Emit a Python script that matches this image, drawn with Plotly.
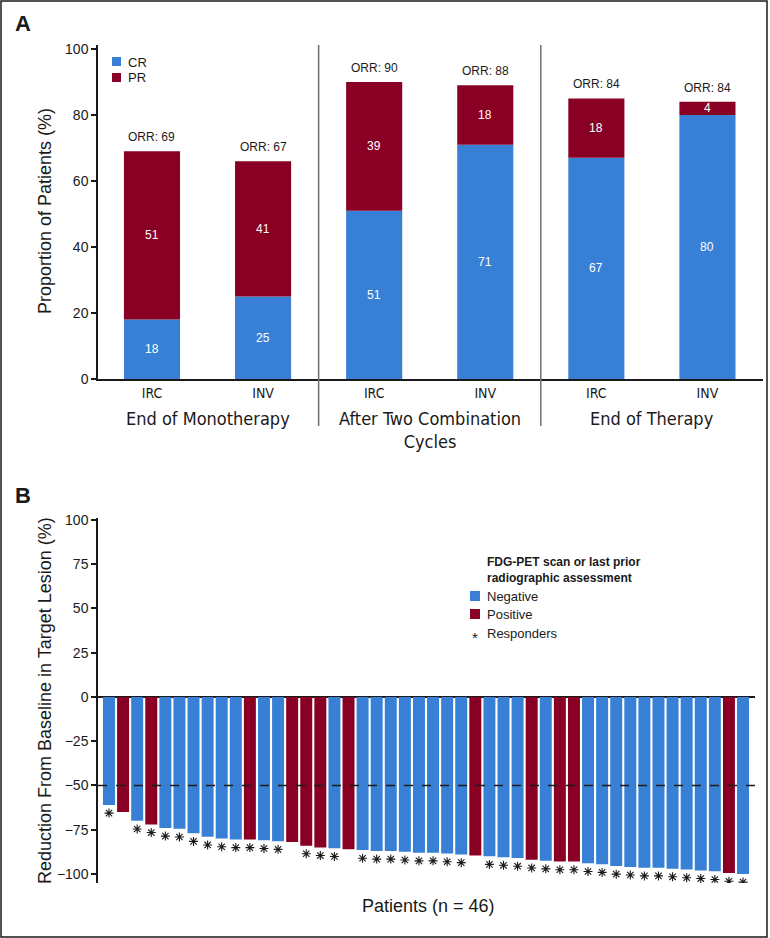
import plotly.graph_objects as go

W, H = 770, 938
def px(x): return x / W
def py(y): return 1 - y / H

# ---------------- Panel A data ----------------
a_tick_labels = ["IRC", "INV", "IRC", "INV", "IRC", "INV"]
a_groups = ["End of Monotherapy", "After Two Combination<br>Cycles", "End of Therapy"]
a_cr = [18, 25, 51, 71, 67, 80]
a_pr = [51, 41, 39, 18, 18, 4]
a_orr = [69, 67, 90, 88, 84, 84]

# ---------------- Panel B data ----------------
b_reduction = [-61, -65, -70, -72, -74, -74.5, -77, -79, -80, -80.5,
               -80.5, -81, -81.5, -82, -84, -85, -85.5, -86, -86.5, -87,
               -87, -87.5, -88, -88, -88.5, -89, -89.5, -90, -90.5, -91,
               -92, -92.5, -93, -93, -94, -94.5, -95.5, -96, -96.5, -96.5,
               -97, -97.5, -98, -98.5, -99.5, -100]
b_pet = ["N", "P", "N", "P", "N", "N", "N", "N", "N", "N",
         "P", "N", "N", "P", "P", "P", "N", "P", "N", "N",
         "N", "N", "N", "N", "N", "N", "P", "N", "N", "N",
         "P", "N", "P", "P", "N", "N", "N", "N", "N", "N",
         "N", "N", "N", "N", "P", "N"]
b_responder = [1, 0, 1, 1, 1, 1, 1, 1, 1, 1,
               1, 1, 1, 0, 1, 1, 1, 0, 1, 1,
               1, 1, 1, 1, 1, 1, 0, 1, 1, 1,
               1, 1, 1, 1, 1, 1, 1, 1, 1, 1,
               1, 1, 1, 1, 1, 1]

BLUE = "#3780d6"
RED = "#8a0024"
INK = "#1a1a1a"
SANS = "Liberation Sans, Arial, Helvetica, sans-serif"
NARROW = "Liberation Sans Narrow, Arial Narrow, DejaVu Sans Condensed, sans-serif"

fig = go.Figure()

xa = list(range(len(a_cr)))
fig.add_trace(go.Bar(x=xa, y=a_cr, marker=dict(color=BLUE, line=dict(width=0)),
                     width=0.505, xaxis="x", yaxis="y", showlegend=False, hoverinfo="skip"))
fig.add_trace(go.Bar(x=xa, y=a_pr, base=a_cr, marker=dict(color=RED, line=dict(width=0)),
                     width=0.505, xaxis="x", yaxis="y", showlegend=False, hoverinfo="skip"))

xb = list(range(len(b_reduction)))
fig.add_trace(go.Bar(x=xb, y=b_reduction,
                     marker=dict(color=[RED if s == "P" else BLUE for s in b_pet], line=dict(width=0)),
                     xaxis="x2", yaxis="y2", showlegend=False, hoverinfo="skip"))
rx = [i for i, r in zip(xb, b_responder) if r]
ry = [v - 4.6 for v, r in zip(b_reduction, b_responder) if r]
fig.add_trace(go.Scatter(x=rx, y=ry, mode="markers",
                         marker=dict(symbol="asterisk-open", size=7.5, color=INK,
                                     line=dict(width=1.1, color=INK)),
                         xaxis="x2", yaxis="y2", showlegend=False, hoverinfo="skip"))


def note(x, y, text, size, family=SANS, color=INK, xanchor="center", yanchor="middle", **kw):
    d = dict(x=x, y=y, text=text, showarrow=False, xanchor=xanchor, yanchor=yanchor,
             font=dict(family=family, size=size, color=color))
    d.setdefault("xref", "paper")
    d.setdefault("yref", "paper")
    d.update(kw)
    return d


annotations = []
for i in xa:
    annotations.append(note(i, a_cr[i] / 2, str(a_cr[i]), 12, color="white", xref="x", yref="y"))
    annotations.append(note(i, a_cr[i] + a_pr[i] / 2, str(a_pr[i]), 12, color="white", xref="x", yref="y"))
    annotations.append(note(i, a_cr[i] + a_pr[i], f"ORR: {a_orr[i]}", 12, yanchor="bottom",
                            xref="x", yref="y", yshift=5))
for g, lab in enumerate(a_groups):
    annotations.append(note(2 * g + 0.5, py(406), lab, 18, family=NARROW, yanchor="top",
                            xref="x", align="center"))
annotations.append(note(px(13), py(24), "<b>A</b>", 22, xanchor="left"))
annotations.append(note(px(13), py(495), "<b>B</b>", 22, xanchor="left"))
annotations.append(note(px(45), py(211), "Proportion of Patients (%)", 18, textangle=-90))
annotations.append(note(px(45), py(701), "Reduction From Baseline in Target Lesion (%)", 18, textangle=-90))
annotations.append(note(px(428), py(906), "Patients (n = 46)", 18))
annotations.append(note(px(126), py(62), "CR", 13, xanchor="left"))
annotations.append(note(px(126), py(78), "PR", 13, xanchor="left"))
annotations.append(note(px(485), py(569.5), "<b>FDG-PET scan or last prior<br>radiographic assessment</b>",
                        12, xanchor="left", align="left"))
for yy, t in [(596, "Negative"), (614, "Positive"), (633, "Responders")]:
    annotations.append(note(px(485), py(yy), t, 13, xanchor="left"))
annotations.append(note(px(475), py(637), "*", 15))

shapes = [
    dict(type="rect", xref="paper", yref="paper", x0=px(1), x1=px(767), y0=py(937), y1=py(1),
         line=dict(color=INK, width=1.5)),
    dict(type="line", xref="x", yref="paper", x0=1.5, x1=1.5, y0=py(45), y1=py(426),
         line=dict(color="#707070", width=1.5)),
    dict(type="line", xref="x", yref="paper", x0=3.5, x1=3.5, y0=py(45), y1=py(426),
         line=dict(color="#707070", width=1.5)),
    dict(type="line", xref="paper", yref="y2", x0=px(98), x1=px(755), y0=-50, y1=-50,
         line=dict(color=INK, width=1.5, dash="dash")),
    dict(type="rect", xref="paper", yref="paper", x0=px(112), x1=px(121), y0=py(66), y1=py(57),
         fillcolor=BLUE, line=dict(width=0)),
    dict(type="rect", xref="paper", yref="paper", x0=px(112), x1=px(121), y0=py(82), y1=py(73),
         fillcolor=RED, line=dict(width=0)),
    dict(type="rect", xref="paper", yref="paper", x0=px(470), x1=px(480), y0=py(601), y1=py(591),
         fillcolor=BLUE, line=dict(width=0)),
    dict(type="rect", xref="paper", yref="paper", x0=px(470), x1=px(480), y0=py(619), y1=py(609),
         fillcolor=RED, line=dict(width=0)),
]

fig.update_layout(
    width=W, height=H, margin=dict(l=0, r=0, t=0, b=0, pad=0),
    paper_bgcolor="white", plot_bgcolor="white", barmode="overlay", bargap=0.15,
    font=dict(family=SANS, color=INK),
    xaxis=dict(domain=[px(98), px(763)], range=[-0.486, 5.5], tickvals=xa, ticktext=a_tick_labels,
               showline=True, linecolor=INK, linewidth=1.5, ticks="", showgrid=False, zeroline=False,
               tickfont=dict(family=NARROW, size=14, color=INK), automargin=False, anchor="y"),
    yaxis=dict(domain=[py(379), py(45)], range=[0, 101.2], tickvals=[0, 20, 40, 60, 80, 100],
               showline=True, linecolor=INK, linewidth=1.5, ticks="outside", ticklen=5,
               tickcolor=INK, tickwidth=1.5, showgrid=False, zeroline=False,
               tickfont=dict(family=SANS, size=14, color=INK), automargin=False, anchor="x"),
    xaxis2=dict(domain=[px(98), px(755)], range=[-0.78, 45.85], showticklabels=False, showline=False,
                ticks="", showgrid=False, zeroline=False, automargin=False, anchor="y2"),
    yaxis2=dict(domain=[py(883), py(518)], range=[-105.1, 101.1],
                tickvals=[100, 75, 50, 25, 0, -25, -50, -75, -100],
                showline=True, linecolor=INK, linewidth=1.5, ticks="outside", ticklen=5,
                tickcolor=INK, tickwidth=1.5, showgrid=False, zeroline=True, zerolinecolor=INK,
                zerolinewidth=1.5, tickfont=dict(family=SANS, size=14, color=INK),
                automargin=False, anchor="x2"),
    annotations=annotations, shapes=shapes,
)

fig.write_html("out.html", config={"displayModeBar": False},
               post_script="document.body.style.margin='0';document.body.style.overflow='hidden';")
